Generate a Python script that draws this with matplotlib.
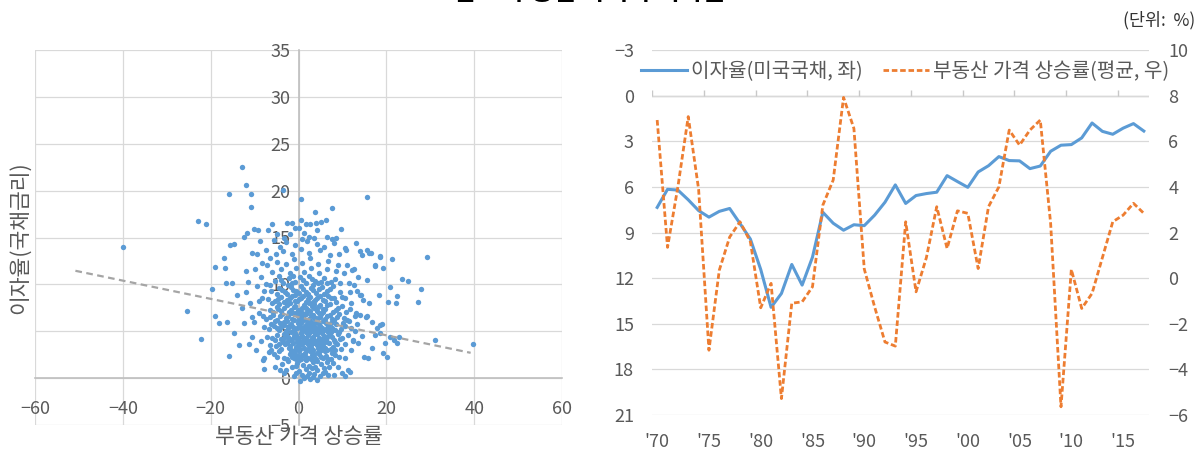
import numpy as np
import matplotlib
matplotlib.use("Agg")
import matplotlib.pyplot as plt

plt.rcParams['font.family'] = ['Noto Sans CJK KR', 'DejaVu Sans']

# ---- left panel: house price growth vs. bond rate (scatter) ----
scatter_outer = [
    (-12.8, 22.5), (-12.0, 20.6), (-15.8, 19.6), (-10.8, 19.6), (-10.8, 18.3), (-3.5, 20.1),
    (0.5, 19.1), (15.6, 19.3), (7.6, 18.2), (3.8, 17.7), (6.3, 16.9), (-22.9, 16.8),
    (-21.0, 16.4), (-39.9, 14.0), (-25.3, 7.2), (-22.3, 4.2), (-15.8, 2.4), (-8.0, 1.9),
    (-6.7, 2.8), (-5.6, 2.6), (-4.1, 0.9), (29.2, 12.9), (23.6, 10.6), (24.9, 10.4),
    (27.8, 9.5), (27.1, 8.1), (20.8, 9.7), (20.4, 8.1), (22.3, 8.0), (22.5, 8.8),
    (21.3, 12.7), (18.3, 8.9), (31.0, 4.1), (39.8, 3.6), (22.9, 4.4), (22.5, 3.8),
    (18.9, 5.8), (17.9, 5.4), (18.5, 4.8), (17.5, 4.6), (19.8, 3.7), (20.2, 2.3),
    (19.3, 2.7), (15.8, 2.2), (15.0, 2.3), (11.7, 0.7), (11.2, 0.9),
]
scatter_mid = [
    (13.0, 14.4), (14.1, 13.6), (15.5, 13.7), (16.4, 13.4), (14.5, 13.1), (18.5, 12.9),
    (19.3, 11.7), (17.5, 12.1), (10.9, 13.7), (11.1, 12.1), (12.2, 11.5), (14.3, 8.9),
    (14.7, 8.3), (14.0, 6.7), (15.3, 6.5), (11.8, 7.4), (16.0, 13.3), (17.5, 12.0),
    (18.6, 13.0), (12.6, 11.6), (9.5, 10.1), (11.4, 10.1), (12.6, 9.9), (14.1, 8.9),
    (15.6, 6.6), (16.7, 6.0), (18.6, 5.7), (20.9, 4.4), (21.7, 4.1), (10.7, 13.9),
    (-18.9, 11.9), (-17.0, 12.8), (-16.8, 11.7), (-15.5, 14.2), (-14.7, 14.3), (-12.4, 15.1),
    (-11.7, 15.5), (-10.2, 15.9), (-9.2, 15.8), (-7.0, 15.8), (-4.8, 15.4), (-16.6, 10.1),
    (-15.1, 10.2), (-19.6, 9.5), (-18.9, 6.6), (-18.2, 5.9), (-16.2, 6.0), (-13.9, 8.9),
    (-14.7, 4.8), (-12.4, 5.9), (-10.5, 6.5), (-13.6, 3.5), (-11.3, 3.6), (-10.5, 4.4),
    (-12.0, 11.4), (-10.5, 13.4), (-9.4, 13.2), (-8.3, 12.3), (-8.6, 10.8), (-7.1, 12.1),
    (-6.4, 12.8), (-5.2, 13.2), (-2.6, 16.5), (-1.4, 16.5), (-0.7, 16.0), (0.5, 16.9),
    (1.6, 16.4), (2.7, 16.4), (3.9, 16.5), (0.1, 16.0), (0.8, 14.8), (2.3, 15.1),
    (3.5, 14.9), (4.2, 15.8), (6.5, 15.1), (7.7, 14.8), (8.0, 14.4), (5.8, 14.0),
    (-9.5, 9.8), (-8.2, 8.5), (-11.0, 8.0), (-9.0, 7.0), (-7.8, 5.5), (-9.6, 3.0),
    (-8.5, 4.0), (-12.8, 7.5), (-11.5, 10.3), (-7.5, 10.0), (-6.5, 3.5), (-7.8, 2.2),
    (10.5, 2.2), (12.0, 3.0), (13.5, 3.8), (12.8, 5.0), (14.5, 4.5), (13.0, 7.0),
    (10.5, 8.5), (11.8, 9.2), (16.0, 8.0), (15.5, 10.5), (13.5, 10.8), (9.0, 1.2),
    (10.0, 0.5), (8.0, 0.3), (16.8, 3.2),
    (-9.8, 11.6), (-7.9, 9.3), (-9.0, 8.2), (-10.2, 6.0), (-8.0, 6.6), (-7.2, 4.4),
    (-11.9, 9.2), (-6.6, 9.9), (-7.5, 13.7), (-8.8, 14.6), (-5.6, 14.7), (9.3, 13.2),
    (10.3, 11.2), (12.0, 8.0), (13.4, 9.3), (11.0, 6.2), (12.3, 4.0), (9.5, 9.2),
    (10.6, 0.2), (-5.4, 1.2), (-3.2, 0.6), (8.6, 14.9), (9.6, 15.9), (-6.1, 16.4),
    (5.2, 16.7), (-7.9, 1.0),
]
scatter_core = [
    (-1.5, 1.2), (0.2, 0.8), (1.1, 1.4), (2.3, 0.6), (3.0, 1.1), (4.2, 0.9), (5.1, 1.5),
    (6.0, 0.7), (0.7, 0.3), (1.9, 0.2), (3.6, 0.4), (4.8, 0.2), (2.7, -0.1), (5.6, 0.5),
    (-0.6, 0.6), (7.0, 1.2), (-2.3, 1.8), (3.3, 1.7), (1.6, 1.9), (-0.3, 1.6),
    (-3.4, 2.2), (-2.0, 2.6), (-1.1, 2.1), (-0.2, 2.4), (0.6, 2.0), (1.4, 2.7), (2.2, 2.2),
    (3.1, 2.5), (3.9, 2.0), (4.7, 2.6), (5.5, 2.1), (6.3, 2.4), (7.4, 2.0), (8.2, 2.5),
    (-4.5, 2.9), (0.1, 2.9), (2.6, 2.9), (4.4, 2.8), (6.0, 2.9), (-1.6, 2.8),
    (-5.2, 3.4), (-4.0, 3.1), (-3.1, 3.6), (-2.2, 3.2), (-1.3, 3.7), (-0.5, 3.3), (0.3, 3.6),
    (1.2, 3.2), (2.0, 3.7), (2.8, 3.3), (3.7, 3.8), (4.5, 3.2), (5.3, 3.6), (6.1, 3.2),
    (7.0, 3.7), (7.9, 3.3), (8.8, 3.6), (9.7, 3.1), (-3.6, 3.9), (1.6, 3.9), (4.1, 3.5),
    (6.6, 3.9), (-0.9, 3.0), (3.3, 3.0),
    (-6.0, 4.3), (-4.8, 4.6), (-3.9, 4.2), (-2.9, 4.7), (-2.0, 4.1), (-1.1, 4.5), (-0.3, 4.2),
    (0.5, 4.8), (1.3, 4.3), (2.1, 4.6), (2.9, 4.1), (3.7, 4.7), (4.6, 4.3), (5.4, 4.8),
    (6.2, 4.2), (7.1, 4.6), (8.0, 4.1), (8.9, 4.7), (10.0, 4.3), (11.2, 4.6), (0.0, 4.0),
    (1.8, 4.9), (3.3, 4.4), (4.9, 4.0), (6.7, 4.9), (-1.6, 4.9), (12.5, 4.1),
    (-6.8, 5.2), (-5.5, 5.6), (-4.4, 5.1), (-3.4, 5.7), (-2.5, 5.3), (-1.6, 5.8), (-0.8, 5.2),
    (0.1, 5.6), (0.9, 5.1), (1.7, 5.7), (2.5, 5.3), (3.4, 5.8), (4.2, 5.2), (5.0, 5.6),
    (5.9, 5.1), (6.8, 5.7), (7.7, 5.3), (8.6, 5.8), (9.6, 5.2), (10.7, 5.6), (11.9, 5.3),
    (-0.2, 5.9), (2.1, 5.0), (3.8, 5.5), (6.3, 5.9), (-2.9, 5.0), (13.3, 5.8),
    (-7.4, 6.3), (-5.9, 6.7), (-4.8, 6.2), (-3.8, 6.8), (-2.8, 6.4), (-1.9, 6.9), (-1.0, 6.2),
    (-0.1, 6.6), (0.8, 6.1), (1.6, 6.8), (2.5, 6.3), (3.4, 6.7), (4.3, 6.2), (5.2, 6.8),
    (6.1, 6.3), (7.1, 6.7), (8.1, 6.2), (9.2, 6.8), (10.4, 6.4), (11.6, 6.1), (0.4, 6.9),
    (2.9, 6.0), (4.8, 6.5), (-3.3, 6.0), (12.8, 6.6),
    (-6.6, 7.3), (-5.0, 7.6), (-3.9, 7.2), (-2.7, 7.8), (-1.6, 7.3), (-0.7, 7.7), (0.3, 7.2),
    (1.2, 7.8), (2.1, 7.3), (3.1, 7.7), (4.1, 7.2), (5.0, 7.8), (6.0, 7.4), (7.2, 7.9),
    (8.5, 7.3), (9.8, 7.7), (-4.4, 7.9), (1.7, 7.0), (3.6, 7.5), (10.9, 7.1),
    (-7.0, 8.4), (-5.4, 8.2), (-3.9, 8.7), (-2.6, 8.3), (-1.4, 8.8), (-0.4, 8.2), (0.6, 8.6),
    (1.6, 8.1), (2.7, 8.7), (3.8, 8.3), (4.9, 8.8), (6.1, 8.2), (7.3, 8.6), (8.6, 8.1),
    (-0.9, 8.9), (2.2, 8.9), (9.9, 8.7),
    (-6.2, 9.3), (-4.5, 9.6), (-3.1, 9.2), (-1.8, 9.7), (-0.6, 9.3), (0.5, 9.8), (1.6, 9.2),
    (2.8, 9.6), (4.0, 9.1), (5.3, 9.7), (6.6, 9.3), (7.9, 9.8), (-2.4, 9.9), (3.4, 9.9),
    (-5.3, 10.4), (-3.6, 10.2), (-2.1, 10.7), (-0.8, 10.3), (0.4, 10.8), (1.7, 10.2),
    (3.0, 10.6), (4.4, 10.1), (5.8, 10.7), (7.3, 10.3), (-4.5, 10.9),
    (-6.1, 11.3), (-3.9, 11.6), (-2.0, 11.2), (-0.5, 11.7), (1.2, 11.3), (2.9, 11.8),
    (4.7, 11.2), (6.5, 11.6), (8.6, 11.4), (-1.2, 10.9),
    (-4.9, 12.4), (-2.8, 12.2), (-1.0, 12.7), (0.8, 12.3), (2.6, 12.8), (4.5, 12.2),
    (6.8, 12.5), (9.0, 12.1), (-3.5, 13.6), (-1.5, 13.2), (0.6, 13.8), (2.5, 13.3),
    (4.9, 13.7), (7.2, 13.1), (-2.9, 14.5), (-0.8, 14.2), (1.9, 14.6), (4.3, 14.3),
    (-4.2, 14.0), (-1.9, 15.4), (-3.4, 15.0), (1.2, 15.5),
    (-1.9, 3.4), (-0.8, 2.6), (0.4, 3.1), (1.0, 4.0), (1.9, 3.0), (2.4, 4.0), (3.0, 5.0),
    (3.5, 2.6), (4.0, 4.0), (4.7, 5.0), (5.2, 3.0), (-1.2, 5.5), (0.6, 5.3), (-0.4, 3.9),
    (1.5, 5.3), (2.6, 5.7), (3.9, 6.0), (0.0, 6.2), (-2.3, 4.4), (5.8, 4.5), (-0.5, 1.3),
    (2.5, 1.3), (4.3, 1.8), (1.4, 2.4), (3.5, 6.4), (5.6, 3.4), (-2.6, 6.1), (0.9, 7.5),
    (2.4, 8.0), (-1.2, 7.0), (3.1, 4.3), (0.7, 4.5), (-0.9, 4.8), (2.7, 3.6), (4.9, 3.6),
    (1.3, 6.3), (-1.5, 2.3), (6.5, 3.0), (6.9, 5.4), (7.6, 4.4), (-3.4, 4.3), (-4.2, 5.9),
    (0.2, 1.9), (1.8, 1.0), (3.8, 1.2), (6.6, 1.7), (8.4, 3.0), (9.3, 4.9), (5.5, 7.1),
    (-2.0, 8.0),
    (-3.8, 1.5), (-2.8, 0.9), (-1.0, 0.2), (0.4, -0.3), (1.3, 0.0), (3.2, 0.1), (4.1, -0.2),
    (5.9, 1.1), (6.8, 0.3), (7.8, 1.6), (-4.9, 2.3), (-2.6, 2.0), (-0.6, 2.0), (0.9, 2.5),
    (1.8, 2.0), (2.8, 2.0), (3.6, 2.3), (5.1, 2.3), (6.7, 2.0), (7.7, 2.7), (9.2, 2.3),
    (-6.2, 3.0), (-4.5, 3.6), (-2.6, 3.7), (-1.7, 3.0), (-0.1, 3.4), (0.9, 3.6), (2.4, 3.4),
    (3.2, 3.8), (4.9, 3.2), (5.7, 3.9), (7.4, 3.1), (8.3, 3.9), (10.6, 3.6),
    (-5.3, 4.1), (-3.3, 4.7), (-2.4, 4.0), (-1.4, 4.2), (-0.6, 4.6), (0.2, 4.3), (1.6, 4.3),
    (2.5, 4.8), (3.5, 4.1), (4.3, 4.7), (5.1, 4.2), (6.6, 4.4), (7.5, 4.9), (9.4, 4.2),
    (-6.2, 5.8), (-5.0, 5.3), (-3.9, 5.5), (-2.1, 5.6), (-1.2, 5.0), (-0.4, 5.4), (0.5, 5.9),
    (1.3, 5.5), (2.3, 5.9), (2.9, 5.4), (3.6, 5.1), (4.6, 5.8), (5.4, 5.3), (6.4, 5.4),
    (7.3, 5.9), (8.2, 5.1), (10.1, 5.9),
    (-6.5, 6.5), (-5.3, 6.1), (-4.3, 6.6), (-2.3, 6.6), (-1.4, 6.3), (-0.5, 6.9), (0.3, 6.4),
    (1.1, 6.6), (2.0, 6.1), (2.9, 6.7), (3.9, 6.4), (4.6, 6.9), (5.6, 6.1), (6.6, 6.6),
    (7.6, 6.3), (8.7, 6.5),
    (-5.8, 7.1), (-4.6, 7.4), (-3.3, 7.5), (-2.2, 7.1), (-1.1, 7.6), (-0.2, 7.3), (0.7, 7.0),
    (1.6, 7.5), (2.6, 7.2), (3.5, 7.9), (4.5, 7.6), (5.5, 7.4), (6.5, 7.8), (7.8, 7.1),
    (9.1, 7.5),
    (-6.0, 8.0), (-4.6, 8.4), (-3.2, 8.1), (-2.0, 8.5), (-0.9, 8.2), (0.2, 8.4), (1.1, 8.8),
    (2.1, 8.4), (3.2, 8.1), (4.3, 8.6), (5.5, 8.3), (6.7, 8.8), (8.0, 8.5),
    (-5.0, 9.0), (-3.8, 9.4), (-2.6, 9.0), (-1.2, 9.4), (0.0, 9.1), (1.1, 9.5), (2.2, 9.0),
    (3.4, 9.4), (4.6, 9.5), (5.9, 9.0), (7.2, 9.5),
    (-4.0, 10.5), (-1.5, 10.1), (1.0, 10.5), (2.3, 10.9), (3.7, 10.4), (5.1, 10.3),
    (6.5, 10.1), (8.3, 10.6),
]
trend_x = [-50.8, 39.2]
trend_y = [11.45, 2.7]

# ---- right panel: time series ----
years = list(range(1970, 2018))
bond_rate = [7.35, 6.16, 6.21, 6.85, 7.56, 7.99, 7.61, 7.42, 8.41, 9.43,
             11.43, 13.92, 13.01, 11.10, 12.46, 10.62, 7.67, 8.39, 8.85, 8.49,
             8.55, 7.86, 7.01, 5.87, 7.09, 6.57, 6.44, 6.35, 5.26, 5.65,
             6.03, 5.02, 4.61, 4.01, 4.27, 4.29, 4.80, 4.63, 3.66, 3.26,
             3.22, 2.78, 1.80, 2.35, 2.54, 2.14, 1.84, 2.33]
house_growth = [6.93, 1.35, 4.0, 7.08, 3.9, -3.16, 0.35, 1.8, 2.47, 1.6,
                -1.3, -0.23, -5.28, -1.1, -1.04, -0.38, 3.2, 4.3, 7.92, 6.56,
                0.4, -1.26, -2.8, -2.98, 2.47, -0.6, 0.9, 3.13, 1.3, 2.95,
                2.84, 0.42, 3.13, 4.0, 6.49, 5.83, 6.49, 6.93, 2.4, -5.64,
                0.38, -1.33, -0.67, 0.9, 2.47, 2.76, 3.28, 2.84]
year_ticks = list(range(1970, 2016, 5))
year_labels = ["'70", "'75", "'80", "'85", "'90", "'95", "'00", "'05", "'10", "'15"]

blue = '#5b9bd5'
orange = '#ed7d31'
txt = '#595959'
grid_c = '#d9d9d9'
W, H = 1202, 450

fig = plt.figure(figsize=(12.02, 4.5), dpi=100)

# ---------------- left scatter ----------------
ax = fig.add_axes([35 / W, 25 / H, 527 / W, 375 / H])
pts = np.array(scatter_outer + scatter_mid + scatter_core)
ax.scatter(pts[:, 0], pts[:, 1], s=15, color=blue, linewidths=0, zorder=3)
ax.plot(trend_x, trend_y, color='#a5a5a5', lw=1.6, ls=(0, (3, 2)), zorder=4)

ax.set_xlim(-60, 60)
ax.set_ylim(-5, 35)
ax.set_xticks(range(-60, 61, 20))
ax.set_yticks(range(-5, 36, 5))
ax.grid(True, color=grid_c, lw=0.9, zorder=0)
ax.set_axisbelow(True)
for s in ['top', 'right']:
    ax.spines[s].set_visible(False)
ax.spines['left'].set_position(('data', 0))
ax.spines['bottom'].set_position(('data', 0))
for s in ['left', 'bottom']:
    ax.spines[s].set_color('#bfbfbf')
    ax.spines[s].set_linewidth(1.2)
ax.tick_params(axis='x', length=0, pad=16, labelsize=13, labelcolor=txt)
ax.tick_params(axis='y', length=0, pad=6, labelsize=13, labelcolor=txt)
ax.text(0.5, -0.032, '부동산 가격 상승률', transform=ax.transAxes, ha='center', va='center',
        fontsize=15.5, color=txt)
ax.text(-0.028, 0.5, '이자율(국채금리)', transform=ax.transAxes, ha='center', va='center',
        rotation=90, fontsize=15.5, color=txt)

# ---------------- right time series ----------------
ax2 = fig.add_axes([652 / W, 35 / H, 497 / W, 365 / H])
l1, = ax2.plot(years, bond_rate, color=blue, lw=2.2, label='이자율(미국국채, 좌)', zorder=3)
ax2.set_xlim(1969.5, 2017.5)
ax2.set_ylim(21, -3)
ax2.set_yticks(range(-3, 22, 3))
ax2.yaxis.grid(True, color=grid_c, lw=0.9)
ax2.axhline(0, color='#c8c8c8', lw=1.0, zorder=1)
ax2.vlines(np.arange(1969.5, 2017, 5), 0, -0.35, color='#c8c8c8', lw=1.0)
ax2.set_xticks(year_ticks)
ax2.set_xticklabels(year_labels)
for s in ax2.spines.values():
    s.set_visible(False)
ax2.tick_params(axis='x', length=0, pad=13, labelsize=13, labelcolor=txt)
ax2.tick_params(axis='y', length=0, pad=13, labelsize=13, labelcolor=txt)

ax3 = ax2.twinx()
l2, = ax3.plot(years, house_growth, color=orange, lw=2.0, ls=(0, (2.0, 1.0)),
               label='부동산 가격 상승률(평균, 우)', zorder=3)
ax3.set_ylim(-6, 10)
ax3.set_yticks(range(-6, 11, 2))
for s in ax3.spines.values():
    s.set_visible(False)
ax3.tick_params(axis='y', length=0, pad=14, labelsize=13, labelcolor=txt)

fig.legend(handles=[l1, l2], loc='center', bbox_to_anchor=(905 / W, 1 - 72 / H), ncol=2,
           frameon=False, fontsize=14.5, labelcolor=txt, handlelength=2.3,
           handletextpad=0.2, columnspacing=1.0)

fig.text(1195 / W, 1 - 20 / H, '(단위:  %)', ha='right', va='center', fontsize=12.5, color='#333333')
fig.text(578 / W, 1 - 0.5 / H, '그림 2  부동산 가격과 이자율', ha='center', va='baseline',
         fontsize=18, fontweight='bold', color='black')

fig.savefig('out.png', dpi=100)
